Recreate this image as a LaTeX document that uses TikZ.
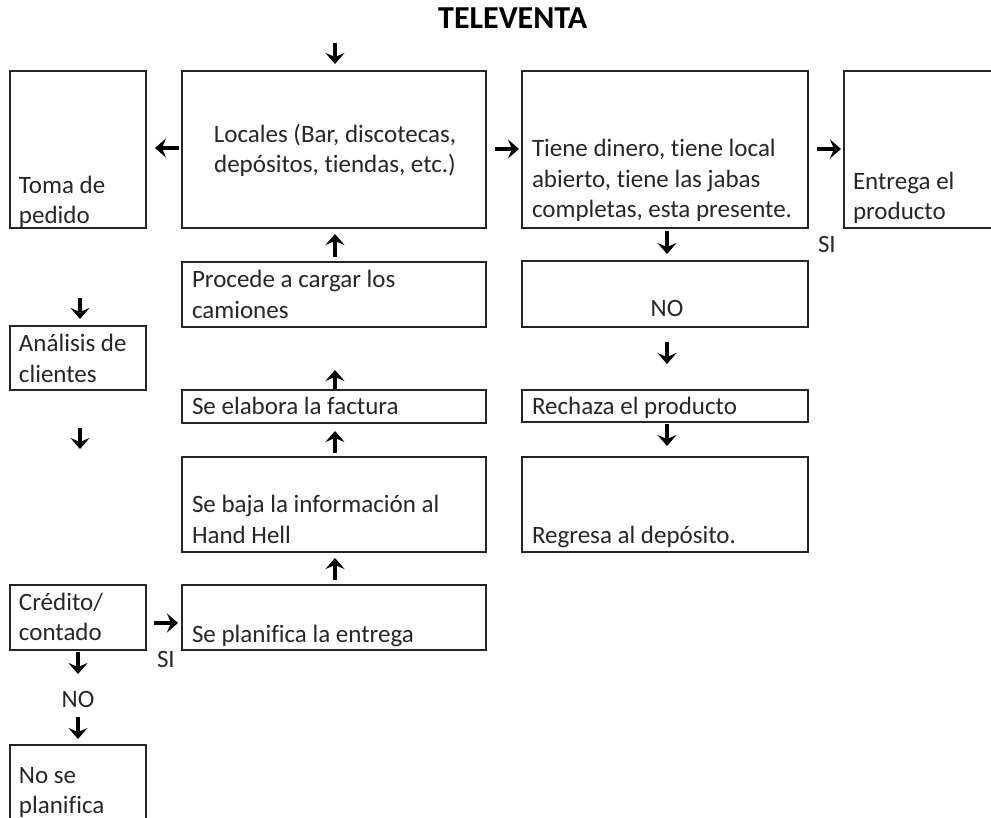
\documentclass[tikz,border=0pt]{standalone}
\usepackage{fontspec}
\setmainfont{Carlito}[Ligatures=NoCommon]
\usetikzlibrary{arrows.meta,fit}

\tikzset{
  box/.style={draw=black!85, line width=1.4pt, inner sep=0pt, outer sep=0pt, rectangle},
  txt/.style={inner sep=0pt, outer sep=0pt, anchor=base west, text=black!85,
    font=\fontsize{25}{30}\selectfont},
  ctxt/.style={txt, anchor=base},
  ttl/.style={inner sep=0pt, anchor=base west, text=black,
    font=\fontsize{32}{36}\selectfont\bfseries},
  garrow/.style={line width=4pt, black,
    -{Stealth[length=11pt,width=19pt,inset=4pt]}},
}

\begin{document}
\begin{tikzpicture}[x=1pt,y=-1pt]
\useasboundingbox (0,0) rectangle (991,818);
\clip (0,0) rectangle (991,818);

% title
\node[ttl] (title) at (438,29) {TELEVENTA};

% boxes
\node[box, fit={(10,71) (146,228)}]   (toma) {};
\node[box, fit={(182,71) (486,228)}]  (loc) {};
\node[box, fit={(522,71) (808,228)}]  (tiene) {};
\node[box, fit={(844,71) (1005,228)}] (entrega) {};
\node[box, fit={(182,262) (486,327)}] (procede) {};
\node[box, fit={(522,261) (808,327)}] (nobox) {};
\node[box, fit={(10,326) (146,390)}]  (analisis) {};
\node[box, fit={(182,390) (486,423)}] (elabora) {};
\node[box, fit={(522,390) (808,422)}] (rechaza) {};
\node[box, fit={(182,457) (486,552)}] (baja) {};
\node[box, fit={(522,457) (808,552)}] (regresa) {};
\node[box, fit={(10,585) (146,650)}]  (credito) {};
\node[box, fit={(182,585) (486,650)}] (planifica) {};
\node[box, fit={(10,745) (146,840)}]  (nose) {};

% box texts
\node[txt] (t-toma1) at (19,194) {Toma de};
\node[txt] (t-toma2) at (19,224) {pedido};
\node[ctxt] (t-loc1) at (335,143) {Locales (Bar, discotecas,};
\node[ctxt] (t-loc2) at (335,173) {depósitos, tiendas, etc.)};
\node[txt] (t-tie1) at (532,157) {Tiene dinero, tiene local};
\node[txt] (t-tie2) at (532,188) {abierto, tiene las jabas};
\node[txt] (t-tie3) at (532,218) {completas, esta presente.};
\node[txt] (t-ent1) at (853,190) {Entrega el};
\node[txt] (t-ent2) at (853,220) {producto};
\node[txt] (t-pro1) at (192,288) {Procede a cargar los};
\node[txt] (t-pro2) at (192,319) {camiones};
\node[ctxt] (t-no) at (667,317) {NO};
\node[txt] (t-ana1) at (19,352) {Análisis de};
\node[txt] (t-ana2) at (19,382) {clientes};
\node[txt] (t-ela) at (192,414) {Se elabora la factura};
\node[txt] (t-rec) at (532,414) {Rechaza el producto};
\node[txt] (t-baj1) at (192,512) {Se baja la información al};
\node[txt] (t-baj2) at (192,543) {Hand Hell};
\node[txt] (t-reg) at (532,543) {Regresa al depósito.};
\node[txt] (t-cre1) at (19,610) {Crédito/};
\node[txt] (t-cre2) at (19,640) {contado};
\node[txt] (t-pla) at (192,642) {Se planifica la entrega};
\node[txt] (t-nos1) at (19,783) {No se};
\node[txt] (t-nos2) at (19,813) {planifica};

% free labels
\node[txt] (si1) at (818,253) {SI};
\node[txt] (si2) at (157,667) {SI};
\node[ctxt] (no2) at (78,707) {NO};

% arrow end points
\coordinate (a1s) at (335,43);  \coordinate (a1e) at (335,64);
\coordinate (a2s) at (179,148); \coordinate (a2e) at (155,148);
\coordinate (a3s) at (495,149); \coordinate (a3e) at (519,149);
\coordinate (a4s) at (817,149); \coordinate (a4e) at (841,149);
\coordinate (a5s) at (335,257); \coordinate (a5e) at (335,234);
\coordinate (a6s) at (667,231); \coordinate (a6e) at (667,254);
\coordinate (a7s) at (80,298);  \coordinate (a7e) at (80,319);
\coordinate (a8s) at (335,389); \coordinate (a8e) at (335,370);
\coordinate (a9s) at (667,342); \coordinate (a9e) at (667,364);
\coordinate (a10s) at (80,428); \coordinate (a10e) at (80,449);
\coordinate (a11s) at (335,453); \coordinate (a11e) at (335,431);
\coordinate (a12s) at (667,424); \coordinate (a12e) at (667,446);
\coordinate (a13s) at (335,580); \coordinate (a13e) at (335,558);
\coordinate (a14s) at (154,623); \coordinate (a14e) at (178,623);
\coordinate (a15s) at (78,652); \coordinate (a15e) at (78,674);
\coordinate (a16s) at (78,717); \coordinate (a16e) at (78,739);

% arrows
\foreach \i in {1,...,16} {
  \draw[garrow] (a\i s) -- (a\i e);
}
\end{tikzpicture}
\end{document}
